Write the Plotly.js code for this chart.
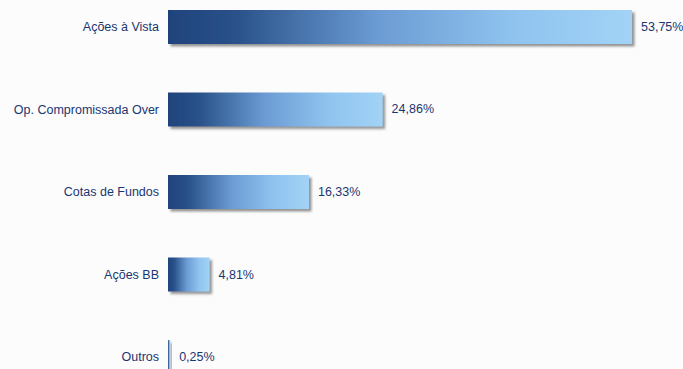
<!DOCTYPE html>
<html>
<head>
<meta charset="utf-8">
<script src="https://cdn.plot.ly/plotly-3.0.1.min.js"></script>
<style>
html,body{margin:0;padding:0;background:#fcfcfd;}
#chart{width:683px;height:369px;}
</style>
</head>
<body>
<div id="chart"></div>
<script>
const categories = ["Ações à Vista", "Op. Compromissada Over", "Cotas de Fundos", "Ações BB", "Outros"];
const values = [53.75, 24.86, 16.33, 4.81, 0.25];
const valueLabels = values.map(v => '\u00a0\u2009' + v.toFixed(2).replace('.', ',') + '%');

const navy = '#1a3670';

const trace = {
  type: 'bar',
  orientation: 'h',
  y: categories,
  x: values,
  text: valueLabels,
  textposition: 'outside',
  cliponaxis: false,
  textfont: {family: 'Liberation Sans, Arial, sans-serif', size: 12.5, color: navy},
  marker: {color: '#5f8fc8', line: {width: 0}},
  hoverinfo: 'none'
};

const layout = {
  width: 683,
  height: 369,
  margin: {l: 168, r: 35, t: 0, b: 0},
  paper_bgcolor: '#fcfcfd',
  plot_bgcolor: '#fcfcfd',
  showlegend: false,
  bargap: 0.59,
  xaxis: {range: [0, 55.6], visible: false, fixedrange: true},
  yaxis: {
    type: 'category',
    range: [4.145, -0.327],
    showgrid: false, zeroline: false, showline: false, ticks: '',
    ticklabelstandoff: 8,
    tickfont: {family: 'Liberation Sans, Arial, sans-serif', size: 12.5, color: navy},
    fixedrange: true
  }
};

Plotly.newPlot('chart', [trace], layout, {displayModeBar: false, staticPlot: true}).then(gd => {
  const svg = gd.querySelector('svg.main-svg');
  const ns = 'http://www.w3.org/2000/svg';
  let defs = svg.querySelector('defs');
  if (!defs) { defs = document.createElementNS(ns, 'defs'); svg.insertBefore(defs, svg.firstChild); }
  const grad = document.createElementNS(ns, 'linearGradient');
  grad.setAttribute('id', 'barGrad');
  grad.setAttribute('x1', '0'); grad.setAttribute('y1', '0');
  grad.setAttribute('x2', '1'); grad.setAttribute('y2', '0');
  [['0', '#1f437c'], ['0.15', '#2a528a'], ['0.45', '#6b9bd3'], ['0.75', '#90c4ef'], ['1', '#a2d3f6']].forEach(([o, c]) => {
    const s = document.createElementNS(ns, 'stop');
    s.setAttribute('offset', o); s.setAttribute('stop-color', c);
    grad.appendChild(s);
  });
  defs.appendChild(grad);
  const filt = document.createElementNS(ns, 'filter');
  filt.setAttribute('id', 'barShadow');
  filt.setAttribute('x', '-20%'); filt.setAttribute('y', '-20%');
  filt.setAttribute('width', '160%'); filt.setAttribute('height', '160%');
  const ds = document.createElementNS(ns, 'feDropShadow');
  ds.setAttribute('dx', '2.5'); ds.setAttribute('dy', '2.5');
  ds.setAttribute('stdDeviation', '0.8');
  ds.setAttribute('flood-color', '#7a7a7a'); ds.setAttribute('flood-opacity', '0.8');
  filt.appendChild(ds);
  defs.appendChild(filt);
  gd.querySelectorAll('.barlayer .point path').forEach(p => {
    p.style.fill = 'url(#barGrad)';
    p.setAttribute('filter', 'url(#barShadow)');
  });
});
</script>
</body>
</html>
